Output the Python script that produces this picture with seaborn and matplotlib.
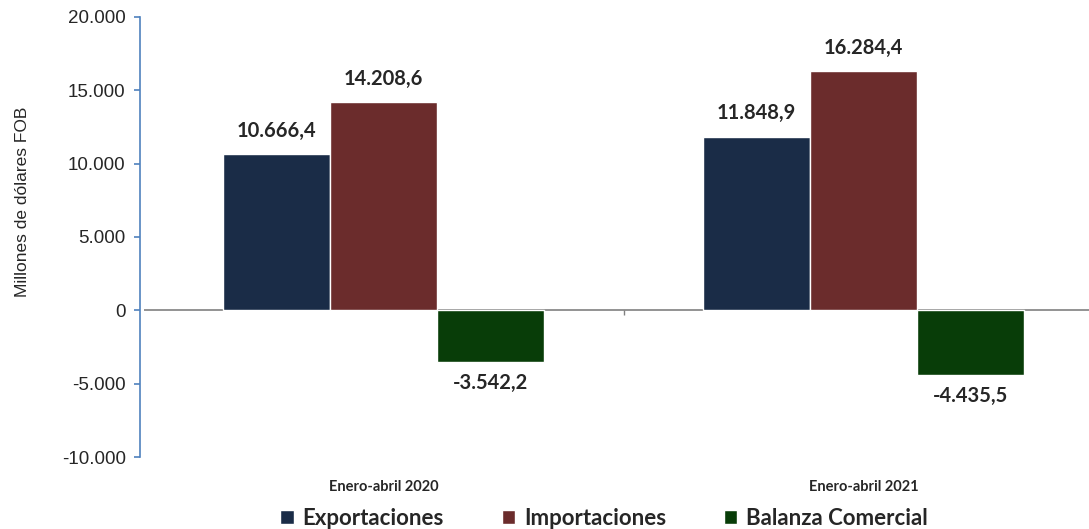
import pandas as pd
import seaborn as sns
import matplotlib.pyplot as plt

periodos = ['Enero-abril 2020', 'Enero-abril 2021']
series = ['Exportaciones', 'Importaciones', 'Balanza Comercial']
exportaciones = [10666.4, 11848.9]
importaciones = [14208.6, 16284.4]
balanza = [-3542.2, -4435.5]
colores = ['#1a2c47', '#6b2c2c', '#083d08']

df = pd.DataFrame({
    'Periodo': periodos * 3,
    'Serie': [s for s in series for _ in periodos],
    'Valor': exportaciones + importaciones + balanza,
})

def fmt(v):
    s = f'{v:,.1f}'
    return s.replace(',', 'X').replace('.', ',').replace('X', '.')

sns.set_style('white')
plt.rcParams['font.family'] = ['Liberation Sans', 'DejaVu Sans']

fig = plt.figure(figsize=(10.89, 5.29), dpi=100)
ax = fig.add_axes([0.132, 0.136, 0.868, 0.832])

sns.barplot(data=df, x='Periodo', y='Valor', hue='Serie', hue_order=series,
            palette=colores, width=0.67, saturation=1, ax=ax, legend=True)

for cont in ax.containers:
    for bar in cont:
        h = bar.get_height()
        cx = bar.get_x() + bar.get_width() / 2
        if h >= 0:
            ax.text(cx, h + 900, fmt(h), ha='center', va='bottom',
                    fontsize=14.5, fontweight='bold', family='Lato')
        else:
            ax.text(cx, h - 700, fmt(h), ha='center', va='top',
                    fontsize=14.5, fontweight='bold', family='Lato')

yt = list(range(-10000, 20001, 5000))
ax.set_ylim(-10000, 20000)
ax.set_xlim(-0.5, 1.47)
ax.set_yticks(yt)
ax.set_yticklabels([fmt(v)[:-2] if v != 0 else '0' for v in yt])
ax.axhline(0, color='#808080', lw=1.2, zorder=0)
ax.vlines(0.5, -300, 0, color='#808080', lw=1)

for s in ['top', 'right', 'bottom']:
    ax.spines[s].set_visible(False)
ax.spines['left'].set_color('#4f81bd')
ax.spines['left'].set_linewidth(1.2)
ax.spines['left'].set_position(('outward', 3))
ax.tick_params(axis='y', left=True, length=4, width=1.2, color='#4f81bd', pad=6,
               labelsize=13.5)
ax.tick_params(axis='x', bottom=False, pad=13)
for t in ax.get_xticklabels():
    t.set_fontsize(10.5)
    t.set_fontweight('bold')
    t.set_family('Lato')

ax.set_xlabel('')
ax.set_ylabel('Millones de dólares FOB', fontsize=12.5)
ax.yaxis.set_label_coords(-0.12, 0.58)

ax.legend(loc='upper center', bbox_to_anchor=(0.487, -0.095), ncol=3, frameon=False,
          prop={'family': 'Lato', 'weight': 'bold', 'size': 16},
          handlelength=0.6, handleheight=0.6, handletextpad=0.4, columnspacing=2.6,
          borderaxespad=0)

fig.savefig('out.png', dpi=100)
